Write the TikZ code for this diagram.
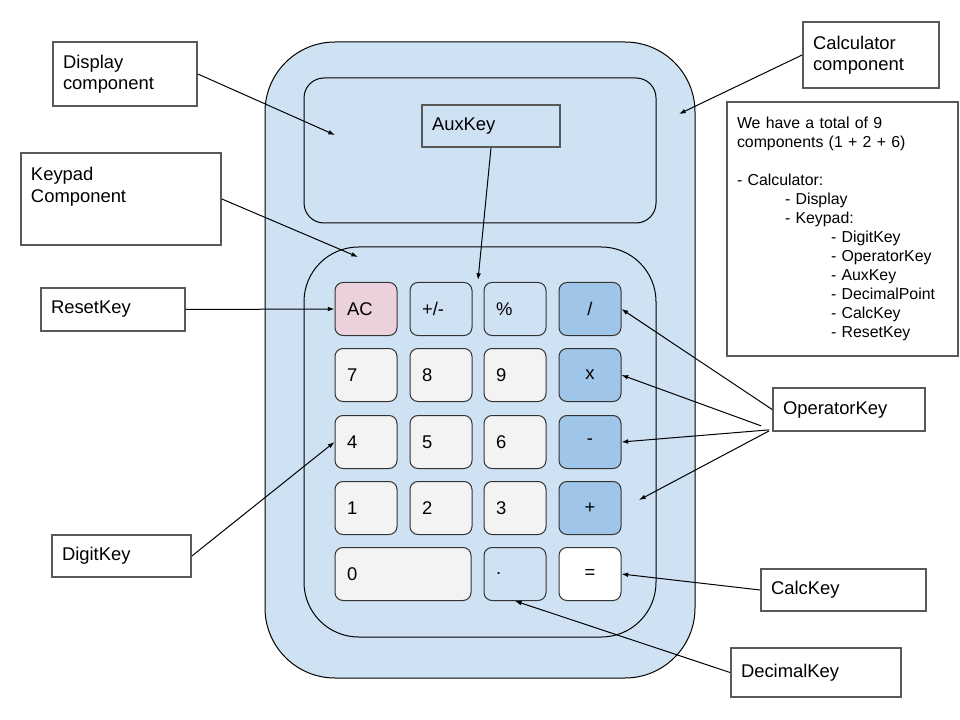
\documentclass[tikz,border=0pt]{standalone}
\usepackage{fontspec}
\setmainfont{Liberation Sans}
\usepackage{xcolor}
\usepackage{tikz}
\usetikzlibrary{arrows.meta,positioning,calc}

\definecolor{calcblue}{HTML}{CFE2F3}
\definecolor{opblue}{HTML}{9FC5E8}
\definecolor{keygray}{HTML}{F3F3F3}
\definecolor{acpink}{HTML}{EAD1DC}
\definecolor{lblgray}{HTML}{595959}

\begin{document}
\begin{tikzpicture}[x=0.75pt, y=-0.75pt,
	lbl/.style={draw=lblgray, line width=1.3pt, fill=white, rectangle, align=left, inner xsep=7.5pt, inner ysep=0pt, font=\fontsize{13.8}{16}\selectfont},
	key/.style={draw=black!80, line width=0.75pt, rounded corners=6pt, minimum height=39.75pt, inner xsep=9pt, font=\fontsize{13.8}{16}\selectfont},
	digit/.style={key, fill=keygray, text width=28.5pt, align=left},
	aux/.style={key, fill=calcblue, text width=28.5pt, align=left},
	op/.style={key, fill=opblue, text width=28.5pt, align=center},
	arr/.style={-{Latex[length=5pt,width=3.5pt]}, line width=0.75pt}]
	\useasboundingbox (0,0) rectangle (960,720);

	% calculator body
	\node[draw, fill=calcblue, rounded corners=52.5pt, line width=0.75pt, minimum width=322.5pt, minimum height=477pt] (body) at (480,360) {};
	\node[draw, fill=calcblue, rounded corners=15pt, line width=0.75pt, minimum width=264pt, minimum height=108.75pt] (disp) at (480,150.5) {};
	\node[draw, fill=calcblue, rounded corners=41pt, line width=0.75pt, minimum width=264pt, minimum height=292.5pt] (pad) at (480,442) {};

	% keys
	\node[aux, fill=acpink] (kAC) at (366,309) {AC};
	\node[aux] (kSign) at (441,309) {+/-};
	\node[aux] (kPct) at (515,309) {\%};
	\node[op] (kDiv) at (590,309) {/};
	\node[digit] (k7) at (366,375) {7};
	\node[digit] (k8) at (441,375) {8};
	\node[digit] (k9) at (515,375) {9};
	\node[op] (kMul) at (590,375) {x};
	\node[digit] (k4) at (366,442) {4};
	\node[digit] (k5) at (441,442) {5};
	\node[digit] (k6) at (515,442) {6};
	\node[op] (kSub) at (590,442) {-};
	\node[digit] (k1) at (366,508) {1};
	\node[digit] (k2) at (441,508) {2};
	\node[digit] (k3) at (515,508) {3};
	\node[op] (kAdd) at (590,508) {+};
	\node[digit, text width=84pt] (k0) at (403,574) {0};
	\node[aux] (kDot) at (515,574) {.};
	\node[op, fill=white] (kEq) at (590,574) {=};

	\node[lbl, fill=calcblue, text width=88.5pt, minimum height=31.5pt] (auxLbl) at (491,126) {AuxKey};

	% free arrow ends
	\coordinate (dispTip) at (335,135);
	\coordinate (padTip) at (358,257);
	\coordinate (bodyTip) at (679,114);
	\coordinate (auxTip) at (478,280);
	\coordinate (addTip) at (639,500);

	% labels
	\node[lbl, text width=93pt, minimum height=48pt] (dispLbl) at (125,74) {Display\\component};
	\node[lbl] (padLbl) at (121,199) {\parbox[c][69pt][t]{135pt}{\vspace*{11pt}Keypad\\Component}};
	\node[lbl, text width=93pt, minimum height=32.25pt] (resetLbl) at (113,309.5) {ResetKey};
	\node[lbl, text width=89.25pt, minimum height=31.5pt] (digitLbl) at (121.5,556) {DigitKey};
	\node[lbl, text width=87pt, minimum height=49.5pt] (calcLbl) at (871,55) {Calculator\\component};
	\node[lbl, text width=158.25pt, minimum height=190.5pt, font=\fontsize{11.9}{14.25}\selectfont] (noteBox) at (842.5,229) {We have a total of 9\\components (1 + 2 + 6)\\[14.25pt]- Calculator:\\\hspace*{36pt}- Display\\\hspace*{36pt}- Keypad:\\\hspace*{70.5pt}- DigitKey\\\hspace*{70.5pt}- OperatorKey\\\hspace*{70.5pt}- AuxKey\\\hspace*{70.5pt}- DecimalPoint\\\hspace*{70.5pt}- CalcKey\\\hspace*{70.5pt}- ResetKey};
	\node[lbl, text width=99pt, minimum height=32.25pt] (opLbl) at (849,409.5) {OperatorKey};
	\node[lbl, text width=108.75pt, minimum height=31.5pt] (eqLbl) at (843.5,590) {CalcKey};
	\node[lbl, text width=112.5pt, minimum height=36.75pt] (decLbl) at (816,672.5) {DecimalKey};

	% arrows
	\draw[arr] (dispLbl.east) -- (dispTip);
	\draw[arr] (padLbl.east) -- (padTip);
	\draw[arr] (calcLbl.west) -- (bodyTip);
	\draw[arr] (auxLbl.south) -- (auxTip);
	\draw[arr] (resetLbl.east) -- (kAC.west);
	\draw[arr] (digitLbl.east) -- (k4.west);
	\draw[arr] (opLbl.west) -- (kDiv.east);
	\draw[arr] ($(opLbl.south west)+(-11,-6)$) -- (kMul.east);
	\draw[arr] ($(opLbl.south west)+(-3,-2)$) -- (kSub.east);
	\draw[arr] ($(opLbl.south west)+(-3,-1)$) -- (addTip);
	\draw[arr] (eqLbl.west) -- (kEq.east);
	\draw[arr] (decLbl.west) -- (kDot.south);
\end{tikzpicture}
\end{document}
